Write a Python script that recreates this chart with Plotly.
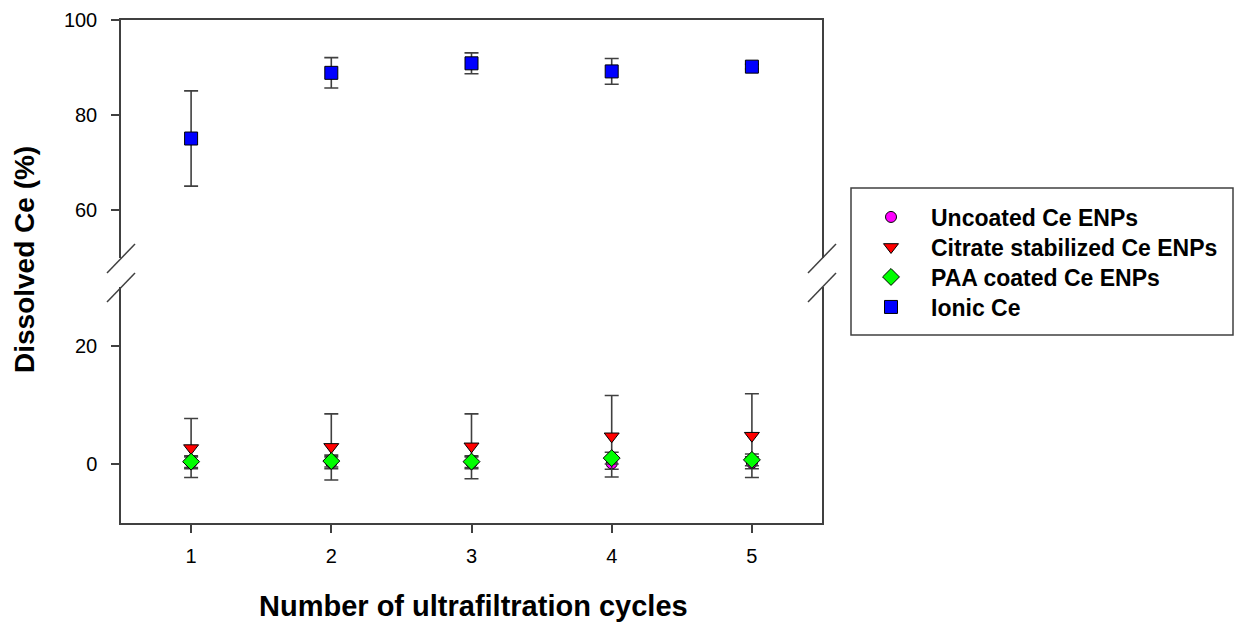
import plotly.graph_objects as go

cycles = [1, 2, 3, 4, 5]

uncoated = [0.2, 0.2, 0.2, 0.1, 0.2]
uncoated_err = [1.0, 1.0, 1.0, 1.0, 1.0]

citrate = [2.7, 2.9, 3.0, 4.7, 4.8]
citrate_err = [5.0, 5.6, 5.5, 6.9, 7.1]

paa = [0.4, 0.5, 0.4, 1.0, 0.7]
paa_err = [1.0, 1.0, 1.0, 1.0, 1.0]

ionic = [75.1, 88.9, 90.9, 89.2, 90.2]
ionic_err = [10.0, 3.2, 2.2, 2.7, 0.5]

x_ticks = [1, 2, 3, 4, 5]
low_ticks = [0, 20]
high_ticks = [60, 80, 100]

AX = "#404040"
FONT = "Liberation Sans, Arial, sans-serif"

# plot area in pixels
W, H = 1235, 622
L, R, T, B = 121, 413, 20, 99
pw, ph = W - L - R, H - T - B
low_top_px = 287      # top of lower panel
high_bot_px = 258     # bottom of upper panel

low_dom = [0, (H - B - low_top_px) / ph]
high_dom = [(H - B - high_bot_px) / ph, 1]


def px_x(px):
    return (px - L) / pw


def px_y(py):
    return (H - B - py) / ph


def err(vals, color=AX):
    return dict(type="data", array=vals, visible=True, color=color,
                thickness=1.6, width=7)


fig = go.Figure()
fig.add_trace(go.Scatter(
    x=cycles, y=uncoated, error_y=err(uncoated_err), mode="markers",
    name="Uncoated Ce ENPs", legend="legend",
    marker=dict(symbol="circle", size=11, color="#ff00ff",
                line=dict(color="black", width=1)),
    xaxis="x", yaxis="y"))
fig.add_trace(go.Scatter(
    x=cycles, y=citrate, error_y=err(citrate_err), mode="markers",
    name="Citrate stabilized Ce ENPs", legend="legend2",
    marker=dict(symbol="triangle-down", size=13, color="#ff0000",
                line=dict(color="black", width=1)),
    xaxis="x", yaxis="y"))
fig.add_trace(go.Scatter(
    x=cycles, y=paa, error_y=err(paa_err), mode="markers",
    name="PAA coated Ce ENPs", legend="legend3",
    marker=dict(symbol="diamond", size=13, color="#00ff00",
                line=dict(color="black", width=1)),
    xaxis="x", yaxis="y"))
fig.add_trace(go.Scatter(
    x=cycles, y=ionic, error_y=err(ionic_err), mode="markers",
    name="Ionic Ce", legend="legend4",
    marker=dict(symbol="square", size=13, color="#0000ff",
                line=dict(color="black", width=1)),
    xaxis="x2", yaxis="y2"))

tickfont = dict(family=FONT, size=20, color="black")


def legend_row(i):
    # one legend per entry so the row pitch can be set exactly
    return dict(
        x=px_x(851), y=px_y(217 + 30 * i), xanchor="left", yanchor="middle",
        borderwidth=0, bgcolor="rgba(0,0,0,0)",
        font=dict(family=FONT, size=23, color="black", weight="bold"),
        itemwidth=70,
    )


fig.update_layout(
    width=W, height=H,
    margin=dict(l=L, r=R, t=T, b=B, autoexpand=False),
    plot_bgcolor="white", paper_bgcolor="white",
    showlegend=True,
    legend=legend_row(0),
    legend2=legend_row(1),
    legend3=legend_row(2),
    legend4=legend_row(3),
    xaxis=dict(
        range=[0.5, 5.5], tickvals=x_ticks, ticks="outside", ticklen=8,
        tickcolor=AX, tickwidth=1.5, showline=True, linecolor=AX,
        linewidth=1.5, showgrid=False, zeroline=False, tickfont=tickfont,
        ticklabelstandoff=6, anchor="y",
    ),
    xaxis2=dict(
        range=[0.5, 5.5], side="top", showticklabels=False, ticks="",
        showline=True, linecolor=AX, linewidth=1.5, showgrid=False,
        zeroline=False, anchor="y2", matches="x",
    ),
    yaxis=dict(
        domain=low_dom, range=[-10, 30], tickvals=low_ticks, ticks="outside",
        ticklen=8, tickcolor=AX, tickwidth=1.5, showline=True, mirror=True,
        linecolor=AX, linewidth=1.5, showgrid=False, zeroline=False,
        tickfont=tickfont, ticklabelstandoff=10,
    ),
    yaxis2=dict(
        domain=high_dom, range=[50, 100], tickvals=high_ticks,
        ticks="outside", ticklen=8, tickcolor=AX, tickwidth=1.5,
        showline=True, mirror=True, linecolor=AX, linewidth=1.5,
        showgrid=False, zeroline=False, tickfont=tickfont,
        ticklabelstandoff=10, anchor="x2",
    ),
)

# legend frame
fig.add_shape(type="rect", xref="paper", yref="paper",
              x0=px_x(851), x1=px_x(1233), y0=px_y(335), y1=px_y(188),
              line=dict(color=AX, width=1.5), layer="below")

# axis titles
fig.add_annotation(
    text="Number of ultrafiltration cycles", xref="paper", yref="paper",
    x=px_x(473), y=px_y(606), showarrow=False, yanchor="middle",
    font=dict(family=FONT, size=29, color="black", weight="bold"))
fig.add_annotation(
    text="Dissolved Ce (%)", xref="paper", yref="paper",
    x=px_x(24), y=px_y(260), showarrow=False, textangle=-90,
    xanchor="center", yanchor="middle",
    font=dict(family=FONT, size=28, color="black", weight="bold"))

# axis-break slashes on both vertical axes
dx = 14 / pw
for side in (0, 1):
    for py in (high_bot_px, low_top_px):
        yc = px_y(py)
        fig.add_shape(
            type="line", xref="paper", yref="paper",
            x0=side - dx, x1=side + dx,
            y0=yc - 15 / ph, y1=yc + 14 / ph,
            line=dict(color=AX, width=1.5))

fig.write_html("out.html")
